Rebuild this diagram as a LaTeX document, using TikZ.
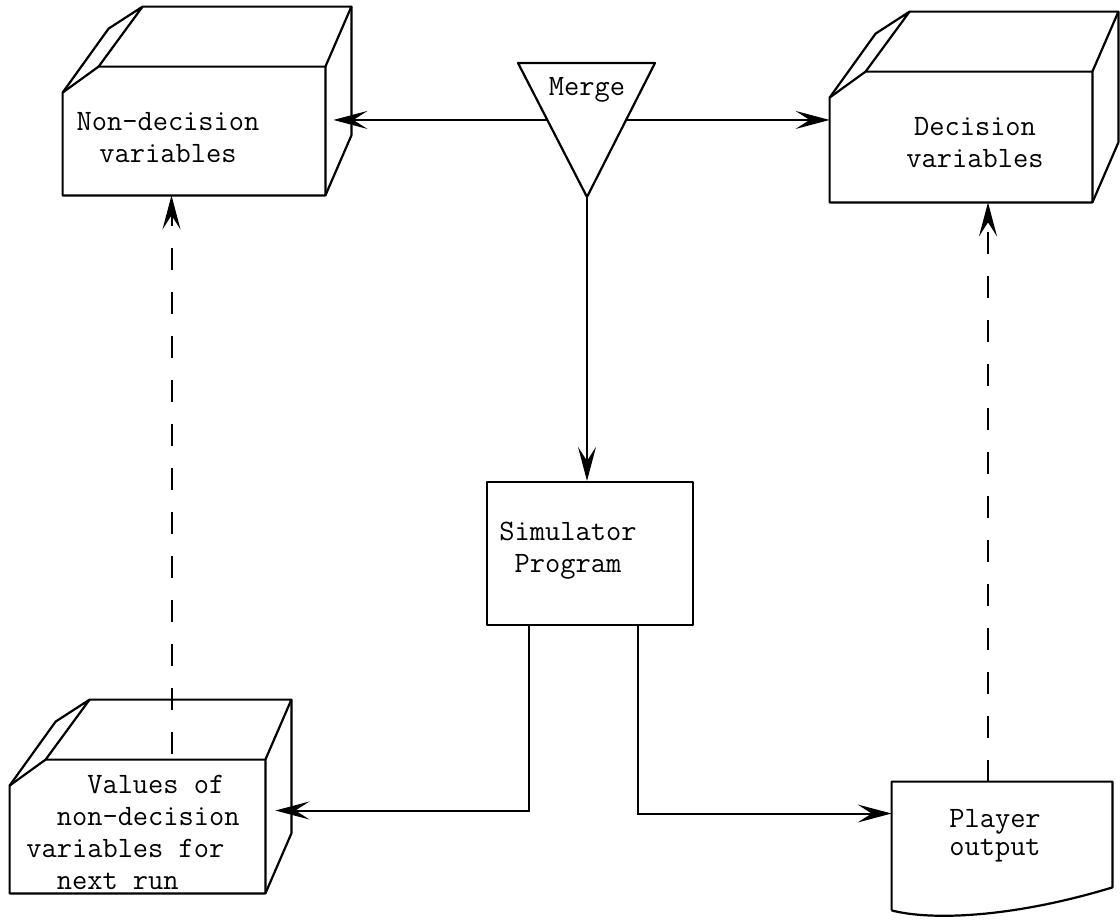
\documentclass[tikz,border=0pt]{standalone}
\usepackage{tikz}
\usetikzlibrary{arrows.meta,positioning,calc}
\tikzstyle{flow} = [line width=1pt,-{Stealth[length=17pt,width=9pt,inset=7pt]}]
\tikzstyle{dashflow} = [flow, dash pattern=on 11pt off 11pt]
\tikzstyle{face} = [rectangle, draw=none, inner sep=0pt]
\tikzstyle{boxline} = [line width=1.1pt, line join=round]
\tikzstyle{txt} = [font=\ttfamily\fontsize{14.8}{16}\selectfont, align=center, inner sep=0pt]

% chamfered 3-d box round a face node
\newcommand{\cutcube}[1]{
\draw[boxline] ([shift={(0,26)}]#1.north west) -- ([shift={(36,0)}]#1.north west)
  -- (#1.north east) -- (#1.south east) -- (#1.south west) -- cycle;
\draw[boxline] ([shift={(0,26)}]#1.north west) -- ([shift={(46,-38)}]#1.north west)
  -- ([shift={(80,-60)}]#1.north west) -- ([shift={(36,0)}]#1.north west);
\draw[boxline] ([shift={(80,-60)}]#1.north west) -- ([shift={(26,-60)}]#1.north east)
  -- (#1.north east);
\draw[boxline] ([shift={(26,-60)}]#1.north east) -- ([shift={(26,-60)}]#1.south east)
  -- (#1.south east);
}

\begin{document}
\begin{tikzpicture}[x=0.5pt, y=-0.5pt]
\useasboundingbox (0,0) rectangle (1120,922);

% Storage boxes
\node (nondec) [face, minimum width=131pt, minimum height=64pt] at (194,131) {};
\node (dec) [face, minimum width=131pt, minimum height=65pt] at (961,137) {};
\node (values) [face, minimum width=127.5pt, minimum height=66.5pt] at (137.5,826.5) {};
\cutcube{nondec}
\cutcube{dec}
\cutcube{values}
\node (nondectxt) [txt] at (168,138) {Non-decision\\variables};
\node (dectxt) [txt] at (975,143) {Decision\\variables};
\node (valuestxt) [txt, align=left] at (133,832) {\hphantom{0000}Values of\\\hphantom{00}non-decision\\variables for\\\hphantom{00}next run};

% Simulator
\node (sim) [face, draw, boxline, minimum width=103pt, minimum height=71.5pt] at (590,553.5) {};
\node (simtxt) [txt] at (568,551) {Simulator\\Program};

% Player output
\node (player) [face, minimum width=110pt, minimum height=66.5pt] at (1002,848.5) {};
\draw[boxline] ([shift={(0,-5)}]player.south west) -- (player.north west) -- (player.north east)
  -- ([shift={(0,-28)}]player.south east)
  .. controls ([shift={(-102,3)}]player.south east) and ([shift={(38,5)}]player.south west)
  .. ([shift={(0,-5)}]player.south west);
\node (playertxt) [txt, font=\ttfamily\fontsize{14.8}{14}\selectfont] at (995,836) {Player\\output};

% Merge
\coordinate (mtl) at (518,63);
\coordinate (mtr) at (655,63);
\coordinate (mbot) at (587,197);
\draw[boxline] (mtl) -- (mtr) -- (mbot) -- cycle;
\node (merge) [txt] at (587,90) {Merge};
\coordinate (mleft) at ($(mtl)!0.425!(mbot)$);
\coordinate (mright) at ($(mtr)!0.425!(mbot)$);

% Flow lines
\draw[flow] (mleft) -- ([xshift=4pt]mleft -| nondec.east);
\draw[flow] (mright) -- (mright -| dec.west);
\draw[flow] (mbot) -- (mbot |- sim.north);
\draw[flow] ([xshift=21.5pt]sim.south west) |- ([shift={(10,-16)}]values.east);
\draw[flow] ([xshift=-28pt]sim.south east) |- ([yshift=17.5pt]player.west);

% Feedback
\coordinate (valtop) at ([shift={(34,-6)}]values.north);
\coordinate (playtop) at ([xshift=-7pt]player.north);
\draw[dashflow] (valtop) -- (valtop |- nondec.south);
\draw[dashflow] (playtop) -- (playtop |- dec.south);
\end{tikzpicture}
\end{document}
